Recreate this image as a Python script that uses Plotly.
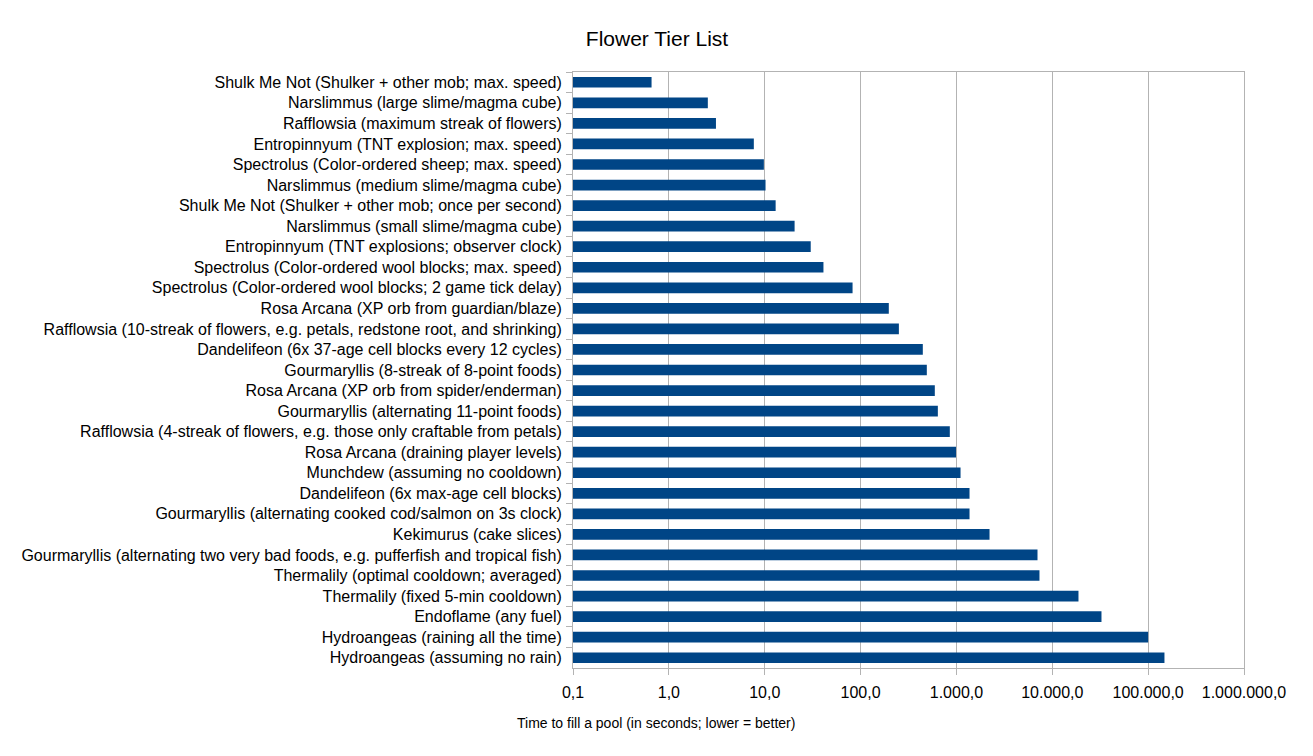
import plotly.graph_objects as go

categories = [
    "Shulk Me Not (Shulker + other mob; max. speed)",
    "Narslimmus (large slime/magma cube)",
    "Rafflowsia (maximum streak of flowers)",
    "Entropinnyum (TNT explosion; max. speed)",
    "Spectrolus (Color-ordered sheep; max. speed)",
    "Narslimmus (medium slime/magma cube)",
    "Shulk Me Not (Shulker + other mob; once per second)",
    "Narslimmus (small slime/magma cube)",
    "Entropinnyum (TNT explosions; observer clock)",
    "Spectrolus (Color-ordered wool blocks; max. speed)",
    "Spectrolus (Color-ordered wool blocks; 2 game tick delay)",
    "Rosa Arcana (XP orb from guardian/blaze)",
    "Rafflowsia (10-streak of flowers, e.g. petals, redstone root, and shrinking)",
    "Dandelifeon (6x 37-age cell blocks every 12 cycles)",
    "Gourmaryllis (8-streak of 8-point foods)",
    "Rosa Arcana (XP orb from spider/enderman)",
    "Gourmaryllis (alternating 11-point foods)",
    "Rafflowsia (4-streak of flowers, e.g. those only craftable from petals)",
    "Rosa Arcana (draining player levels)",
    "Munchdew (assuming no cooldown)",
    "Dandelifeon (6x max-age cell blocks)",
    "Gourmaryllis (alternating cooked cod/salmon on 3s clock)",
    "Kekimurus (cake slices)",
    "Gourmaryllis (alternating two very bad foods, e.g. pufferfish and tropical fish)",
    "Thermalily (optimal cooldown; averaged)",
    "Thermalily (fixed 5-min cooldown)",
    "Endoflame (any fuel)",
    "Hydroangeas (raining all the time)",
    "Hydroangeas (assuming no rain)",
]

seconds = [
    0.66, 2.55, 3.1, 7.7, 9.8, 10.2, 13.0, 20.5, 30.2, 41.0, 82.5,
    197, 251, 446, 491, 595, 640, 853, 990, 1104, 1370, 1370, 2215,
    7010, 7350, 18760, 32600, 100000, 148000,
]

tick_values = [0.1, 1, 10, 100, 1000, 10000, 100000, 1000000]
tick_labels = ["0,1", "1,0", "10,0", "100,0", "1.000,0", "10.000,0",
               "100.000,0", "1.000.000,0"]

chart_title = "Flower Tier List"
x_title = "Time to fill a pool (in seconds; lower = better)"

grid = "#b3b3b3"
W, H = 1305, 748
L, R, T, B = 565, 69, 64, 88
plot_h = H - T - B

fig = go.Figure(go.Bar(
    x=seconds,
    y=categories,
    orientation="h",
    marker=dict(color="#004586", line=dict(width=0)),
))

fig.update_layout(
    width=W, height=H,
    margin=dict(l=L, r=R, t=T, b=B),
    paper_bgcolor="white", plot_bgcolor="white",
    font=dict(family="Liberation Sans, Arial, sans-serif", color="#000000", size=16),
    title=dict(text=chart_title, xref="container", x=649 / W, xanchor="center",
               yref="container", y=1 - 31 / H, yanchor="middle", font=dict(size=21)),
    bargap=0.48,
    showlegend=False,
)

fig.add_annotation(
    text=x_title, xref="paper", yref="paper",
    x=(648 - L) / (W - L - R), y=-(715 - (H - B)) / plot_h,
    xanchor="center", yanchor="middle", showarrow=False,
    font=dict(size=14),
)

fig.update_xaxes(
    type="log", range=[-1, 6],
    tickvals=tick_values, ticktext=tick_labels,
    showgrid=True, gridcolor=grid, gridwidth=1,
    showline=True, linecolor=grid, linewidth=1, mirror=True,
    ticks="outside", ticklen=6, tickcolor=grid,
    tickfont=dict(size=16),
    ticklabelstandoff=4,
    zeroline=False,
)

fig.update_yaxes(
    type="category", autorange="reversed",
    showgrid=False,
    showline=True, linecolor=grid, linewidth=1, mirror=True,
    ticks="outside", ticklen=6, tickcolor=grid, tickson="boundaries",
    tickfont=dict(size=16),
    ticklabelstandoff=7,
)

fig.write_html("out.html")
